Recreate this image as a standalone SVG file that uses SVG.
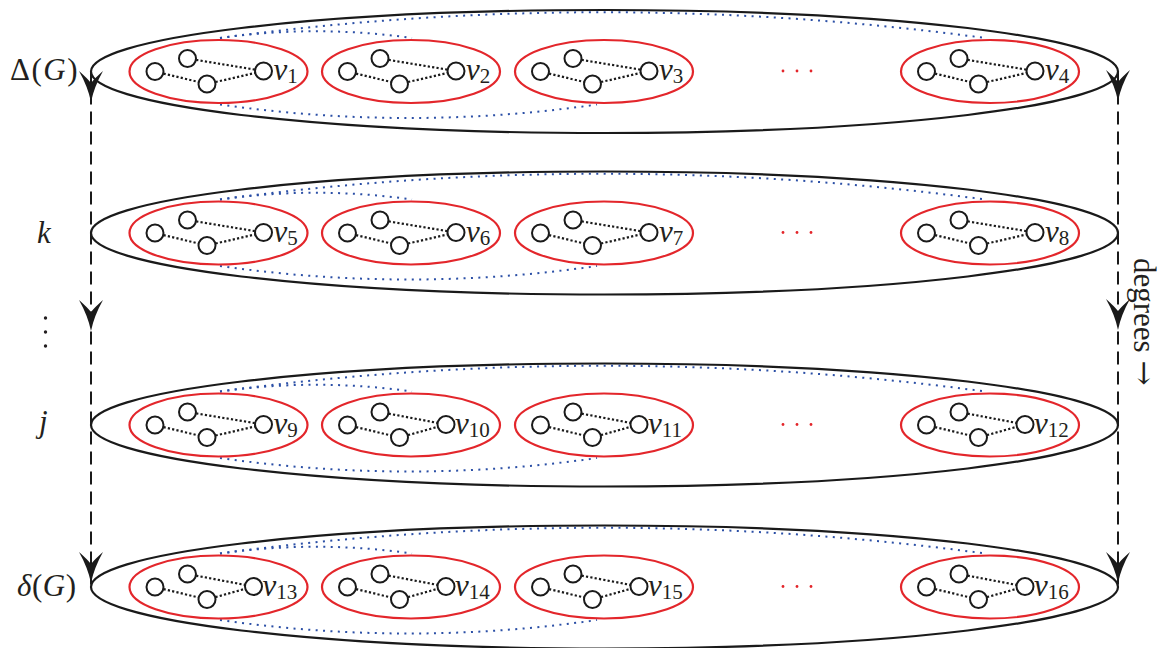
<svg xmlns="http://www.w3.org/2000/svg" xmlns:xlink="http://www.w3.org/1999/xlink" width="1161" height="648" viewBox="0 0 1161 648">
<style>
.row{fill:none;stroke:#1a1a1a;stroke-width:2.2}
.red{fill:none;stroke:#e3262b;stroke-width:2.2}
.nd{fill:#fff;stroke:#1a1a1a;stroke-width:2}
.dl{stroke:#1a1a1a;stroke-width:2.2;stroke-dasharray:2.2 2.2;fill:none}
.bl{fill:none;stroke:#2b4fa6;stroke-width:2;stroke-dasharray:2 5.4}
.dash{stroke:#1a1a1a;stroke-width:2;stroke-dasharray:13 7;fill:none}
.ah{fill:#1a1a1a}
.t{font-family:"Liberation Serif",serif;font-size:31px;fill:#231f20}
.it{font-style:italic}
.sub{font-size:21px;font-style:normal}
.rd{fill:#e3262b}
</style>
<defs>
<g id="cA">
<ellipse class="red" cx="0" cy="0" rx="89" ry="31.5"/>
<line class="dl" x1="-63.5" y1="0" x2="-11.5" y2="12.5"/>
<line class="dl" x1="-31" y1="-13" x2="45" y2="-0.5"/>
<line class="dl" x1="-11.5" y1="12.5" x2="45" y2="-0.5"/>
<circle class="nd" cx="-63.5" cy="0" r="8.5"/>
<circle class="nd" cx="-31" cy="-13" r="8.5"/>
<circle class="nd" cx="-11.5" cy="12.5" r="8.5"/>
<circle class="nd" cx="45" cy="-0.5" r="8.5"/>
</g>
<g id="cB">
<ellipse class="red" cx="0" cy="0" rx="89" ry="31.5"/>
<line class="dl" x1="-63.5" y1="0" x2="-11.5" y2="12.5"/>
<line class="dl" x1="-31" y1="-13" x2="35" y2="-0.5"/>
<line class="dl" x1="-11.5" y1="12.5" x2="35" y2="-0.5"/>
<circle class="nd" cx="-63.5" cy="0" r="8.5"/>
<circle class="nd" cx="-31" cy="-13" r="8.5"/>
<circle class="nd" cx="-11.5" cy="12.5" r="8.5"/>
<circle class="nd" cx="35" cy="-0.5" r="8.5"/>
</g>
<path id="ah" d="M0,0 Q-3,-15 -12,-31 Q-4,-24 0,-19 Q4,-24 12,-31 Q3,-15 0,0Z"/>
</defs>

<!-- row ellipses -->
<g id="row1"><ellipse class="row" cx="604.5" cy="71.5" rx="513.5" ry="61.5"/></g>
<g id="row2"><ellipse class="row" cx="604.5" cy="233" rx="513.5" ry="61.5"/></g>
<g id="row3"><ellipse class="row" cx="604.5" cy="425" rx="513.5" ry="61.5"/></g>
<g id="row4"><ellipse class="row" cx="604.5" cy="587" rx="513.5" ry="61.5"/></g>

<!-- connectors -->
<g id="connectors">
<line class="dash" x1="91" y1="71.5" x2="91" y2="587"/>
<line class="dash" x1="1118" y1="71.5" x2="1118" y2="587"/>
<use xlink:href="#ah" class="ah" x="91" y="102"/>
<use xlink:href="#ah" class="ah" x="91" y="331"/>
<use xlink:href="#ah" class="ah" x="91" y="583"/>
<use xlink:href="#ah" class="ah" x="1118" y="101"/>
<use xlink:href="#ah" class="ah" x="1118" y="330"/>
<use xlink:href="#ah" class="ah" x="1118" y="583"/>
<path class="bl" d="M220,38 Q316,24.5 412,38"/>
<path class="bl" d="M220,38 Q602,-13.5 985,38"/>
<path class="bl" d="M220,104.5 Q409,131.5 597,104.5"/>
<path class="bl" d="M220,199.5 Q316,186 412,199.5"/>
<path class="bl" d="M220,199.5 Q602,148 985,199.5"/>
<path class="bl" d="M220,266 Q409,293 597,266"/>
<path class="bl" d="M220,391.5 Q316,378 412,391.5"/>
<path class="bl" d="M220,391.5 Q602,340 985,391.5"/>
<path class="bl" d="M220,458 Q409,485 597,458"/>
<path class="bl" d="M220,553.5 Q316,540 412,553.5"/>
<path class="bl" d="M220,553.5 Q602,502 985,553.5"/>
<path class="bl" d="M220,620 Q409,647 597,620"/>
</g>

<!-- clusters row 1 -->
<g id="n1"><use xlink:href="#cA" x="218.5" y="71.5"/><text class="t it" x="273.5" y="80">v<tspan class="sub" dy="3">1</tspan></text></g>
<g id="n2"><use xlink:href="#cA" x="411" y="71.5"/><text class="t it" x="466" y="80">v<tspan class="sub" dy="3">2</tspan></text></g>
<g id="n3"><use xlink:href="#cA" x="604" y="71.5"/><text class="t it" x="659" y="80">v<tspan class="sub" dy="3">3</tspan></text></g>
<g id="n4"><use xlink:href="#cA" x="990" y="71.5"/><text class="t it" x="1045" y="80">v<tspan class="sub" dy="3">4</tspan></text></g>
<!-- row 2 -->
<g id="n5"><use xlink:href="#cA" x="218.5" y="233"/><text class="t it" x="273.5" y="241.5">v<tspan class="sub" dy="3">5</tspan></text></g>
<g id="n6"><use xlink:href="#cA" x="411" y="233"/><text class="t it" x="466" y="241.5">v<tspan class="sub" dy="3">6</tspan></text></g>
<g id="n7"><use xlink:href="#cA" x="604" y="233"/><text class="t it" x="659" y="241.5">v<tspan class="sub" dy="3">7</tspan></text></g>
<g id="n8"><use xlink:href="#cA" x="990" y="233"/><text class="t it" x="1045" y="241.5">v<tspan class="sub" dy="3">8</tspan></text></g>
<!-- row 3 -->
<g id="n9"><use xlink:href="#cA" x="218.5" y="425"/><text class="t it" x="273.5" y="433.5">v<tspan class="sub" dy="3">9</tspan></text></g>
<g id="n10"><use xlink:href="#cB" x="411" y="425"/><text class="t it" x="455" y="433.5">v<tspan class="sub" dy="3">10</tspan></text></g>
<g id="n11"><use xlink:href="#cB" x="604" y="425"/><text class="t it" x="648" y="433.5">v<tspan class="sub" dy="3">11</tspan></text></g>
<g id="n12"><use xlink:href="#cB" x="990" y="425"/><text class="t it" x="1034" y="433.5">v<tspan class="sub" dy="3">12</tspan></text></g>
<!-- row 4 -->
<g id="n13"><use xlink:href="#cB" x="218.5" y="587"/><text class="t it" x="262.5" y="595.5">v<tspan class="sub" dy="3">13</tspan></text></g>
<g id="n14"><use xlink:href="#cB" x="411" y="587"/><text class="t it" x="455" y="595.5">v<tspan class="sub" dy="3">14</tspan></text></g>
<g id="n15"><use xlink:href="#cB" x="604" y="587"/><text class="t it" x="648" y="595.5">v<tspan class="sub" dy="3">15</tspan></text></g>
<g id="n16"><use xlink:href="#cB" x="990" y="587"/><text class="t it" x="1034" y="595.5">v<tspan class="sub" dy="3">16</tspan></text></g>

<!-- red ellipsis dots -->
<g id="dots">
<circle class="rd" cx="783" cy="71" r="1.4"/><circle class="rd" cx="797" cy="71" r="1.4"/><circle class="rd" cx="811" cy="71" r="1.4"/>
<circle class="rd" cx="783" cy="232.5" r="1.4"/><circle class="rd" cx="797" cy="232.5" r="1.4"/><circle class="rd" cx="811" cy="232.5" r="1.4"/>
<circle class="rd" cx="783" cy="424.5" r="1.4"/><circle class="rd" cx="797" cy="424.5" r="1.4"/><circle class="rd" cx="811" cy="424.5" r="1.4"/>
<circle class="rd" cx="783" cy="586.5" r="1.4"/><circle class="rd" cx="797" cy="586.5" r="1.4"/><circle class="rd" cx="811" cy="586.5" r="1.4"/>
<circle fill="#231f20" cx="45.5" cy="318" r="1.7"/><circle fill="#231f20" cx="45.5" cy="332" r="1.7"/><circle fill="#231f20" cx="45.5" cy="346" r="1.7"/>
</g>

<!-- left labels -->
<g id="labels">
<text class="t" x="10" y="80" letter-spacing="1.5">Δ(<tspan class="it">G</tspan>)</text>
<text class="t it" x="37" y="243">k</text>
<text class="t it" x="39" y="432">j</text>
<text class="t" x="17" y="596" letter-spacing="0.5"><tspan class="it">δ</tspan>(<tspan class="it">G</tspan>)</text>
<text class="t" transform="translate(1134,258) rotate(90)" x="0" y="0" font-size="30">degrees <tspan font-family="DejaVu Serif" font-size="30">→</tspan></text>
</g>
</svg>
